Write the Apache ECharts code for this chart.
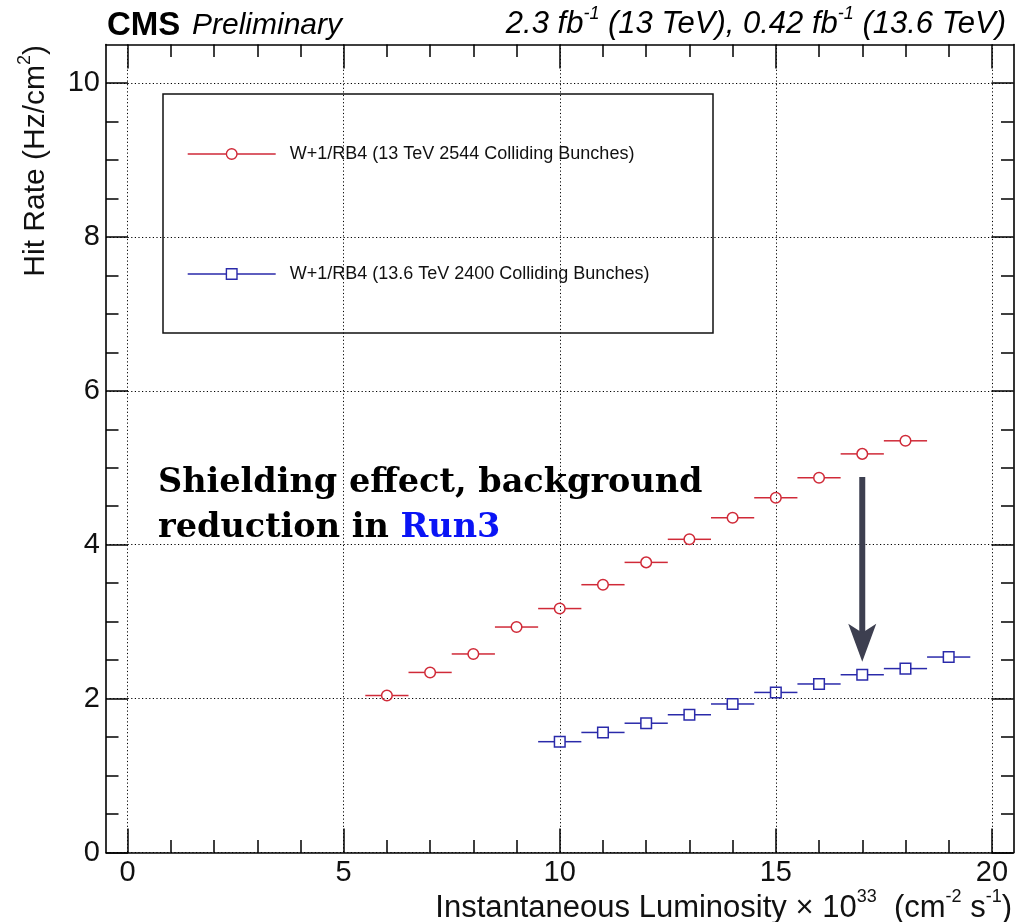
<!DOCTYPE html>
<html>
<head>
<meta charset="utf-8">
<script src="https://cdn.jsdelivr.net/npm/echarts@6/dist/echarts.min.js"></script>
<style>
  html, body { margin: 0; padding: 0; background: #fff; }
  #chart { width: 1028px; height: 922px; }
</style>
</head>
<body>
<div id="chart"></div>
<script>
// W+1/RB4 hit rate vs instantaneous luminosity
const lumi13 = [6, 7, 8, 9, 10, 11, 12, 13, 14, 15, 16, 17, 18];
const rate13 = [2.04, 2.34, 2.58, 2.93, 3.17, 3.48, 3.77, 4.07, 4.35, 4.61, 4.87, 5.18, 5.35];
const lumi136 = [10, 11, 12, 13, 14, 15, 16, 17, 18, 19];
const rate136 = [1.44, 1.56, 1.68, 1.79, 1.93, 2.08, 2.19, 2.31, 2.39, 2.54];
const lumiHalfWidth = 0.5;

// arrow annotation: x, start rate, end rate
const arrowX = [17];
const arrowFrom = [4.88];
const arrowTo = [2.48];

// axis ticks
const xMajorTicks = [0, 5, 10, 15, 20];
const xMinorTicks = [1, 2, 3, 4, 6, 7, 8, 9, 11, 12, 13, 14, 16, 17, 18, 19];
const yMajorTicks = [0, 2, 4, 6, 8, 10];
const yMinorTicks = [0.5, 1, 1.5, 2.5, 3, 3.5, 4.5, 5, 5.5, 6.5, 7, 7.5, 8.5, 9, 9.5];

const legendNames = [
  'W+1/RB4 (13 TeV 2544 Colliding Bunches)',
  'W+1/RB4 (13.6 TeV 2400 Colliding Bunches)'
];

const RED = '#d02a38';
const BLUE = '#2a2aaa';
const SANS = '"Liberation Sans", Arial, Helvetica, sans-serif';

const gridRect = { left: 106, right: 14.5, top: 44.5, bottom: 69.5 };
const X_RANGE = { min: -0.5, max: 20.5 };
const Y_RANGE = { min: 0, max: 10.5 };

function xAxisDef(gridIndex, position, ticks, len, withLabels, withLine, withSplit) {
  return Object.assign({
    type: 'value', gridIndex: gridIndex, position: position,
    axisLine: { show: withLine, onZero: false, lineStyle: { color: '#000', width: 1.6 } },
    axisTick: { show: true, inside: true, length: len, customValues: ticks,
                lineStyle: { color: '#000', width: 1.5 } },
    axisLabel: withLabels ? { show: true, customValues: ticks, margin: 6, fontSize: 29,
                              color: '#111', fontFamily: SANS } : { show: false },
    splitLine: withSplit ? { show: true, lineStyle: { color: '#000', width: 1, type: [1.2, 2.4] } }
                         : { show: false }
  }, X_RANGE);
}
function yAxisDef(gridIndex, position, ticks, len, withLabels, withLine, withSplit) {
  return Object.assign({
    type: 'value', gridIndex: gridIndex, position: position,
    axisLine: { show: withLine, onZero: false, lineStyle: { color: '#000', width: 1.6 } },
    axisTick: { show: true, inside: true, length: len, customValues: ticks,
                lineStyle: { color: '#000', width: 1.5 } },
    axisLabel: withLabels ? { show: true, customValues: ticks, margin: 6, fontSize: 29,
                              color: '#111', fontFamily: SANS } : { show: false },
    splitLine: withSplit ? { show: true, lineStyle: { color: '#000', width: 1, type: [1.2, 2.4] } }
                         : { show: false }
  }, Y_RANGE);
}

// horizontal x-error bar with an open marker (circle or square)
function errorBarSeries(name, xs, ys, color, shape) {
  const r = 5.3;
  return {
    type: 'custom', name: name, xAxisIndex: 0, yAxisIndex: 0, z: 5,
    itemStyle: { color: color },
    data: xs.map((x, i) => [x, ys[i]]),
    renderItem: function (params, api) {
      const x = api.value(0), y = api.value(1);
      const c = api.coord([x, y]);
      const lft = api.coord([x - lumiHalfWidth, y]);
      const rgt = api.coord([x + lumiHalfWidth, y]);
      const stroke = { stroke: color, lineWidth: 1.5, fill: null };
      const marker = shape === 'circle'
        ? { type: 'circle', shape: { cx: c[0], cy: c[1], r: r }, style: stroke }
        : { type: 'rect', shape: { x: c[0] - r, y: c[1] - r, width: 2 * r, height: 2 * r }, style: stroke };
      return {
        type: 'group',
        children: [
          { type: 'line', shape: { x1: lft[0], y1: lft[1], x2: c[0] - r, y2: c[1] }, style: stroke },
          { type: 'line', shape: { x1: c[0] + r, y1: c[1], x2: rgt[0], y2: rgt[1] }, style: stroke },
          marker
        ]
      };
    }
  };
}

const LEGEND_LINE = 'M0,6 L38.7,6 M49.3,6 L88,6 ';
const CIRCLE_ICON = 'path://' + LEGEND_LINE + 'M49.3,6 A5.3,5.3 0 1,1 38.7,6 A5.3,5.3 0 1,1 49.3,6 Z';
const SQUARE_ICON = 'path://' + LEGEND_LINE + 'M38.7,0.7 L49.3,0.7 L49.3,11.3 L38.7,11.3 Z';

const chart = echarts.init(document.getElementById('chart'), null, { renderer: 'canvas' });

const supStyle = { fontSize: 18, verticalAlign: 'top', lineHeight: 18 };

chart.setOption({
  animation: false,
  backgroundColor: '#fff',
  grid: [0, 1, 2, 3].map(() => Object.assign({ containLabel: false }, gridRect)),
  xAxis: [
    xAxisDef(0, 'bottom', xMajorTicks, 24, true, true, true),
    xAxisDef(1, 'bottom', xMinorTicks, 12.5, false, false, false),
    xAxisDef(2, 'top', xMajorTicks, 24, false, true, false),
    xAxisDef(3, 'top', xMinorTicks, 12.5, false, false, false)
  ],
  yAxis: [
    yAxisDef(0, 'left', yMajorTicks, 22, true, true, true),
    yAxisDef(1, 'left', yMinorTicks, 12.5, false, false, false),
    yAxisDef(2, 'right', yMajorTicks, 22, false, true, false),
    yAxisDef(3, 'right', yMinorTicks, 12.5, false, false, false)
  ],
  legend: {
    orient: 'vertical',
    left: 182, top: 139,
    itemWidth: 88, itemHeight: 10.6,
    itemGap: 100,
    selectedMode: false,
    textStyle: { fontSize: 18, fontFamily: SANS, color: '#111', lineHeight: 20, padding: [0, 0, 0, 9] },
    data: [
      { name: legendNames[0], icon: CIRCLE_ICON,
        itemStyle: { color: 'rgba(0,0,0,0)', borderColor: RED, borderWidth: 1.4 } },
      { name: legendNames[1], icon: SQUARE_ICON,
        itemStyle: { color: 'rgba(0,0,0,0)', borderColor: BLUE, borderWidth: 1.4 } }
    ]
  },
  graphic: [
    // legend frame
    { type: 'rect', z: 1,
      shape: { x: 163, y: 94, width: 550, height: 239 },
      style: { fill: null, stroke: '#111', lineWidth: 1.5 } },
    // header
    { type: 'text', x: 107, y: 26, z: 10,
      style: { text: 'CMS', font: 'bold 33px ' + SANS, fill: '#000',
               textAlign: 'left', textVerticalAlign: 'middle' } },
    { type: 'text', x: 192, y: 26, z: 10,
      style: { text: 'Preliminary', font: 'italic 30px ' + SANS, fill: '#000',
               textAlign: 'left', textVerticalAlign: 'middle' } },
    { type: 'text', x: 1006, y: 24, z: 10,
      style: {
        text: '{m|2.3 fb}{s|-1}{m| (13 TeV), 0.42 fb}{s|-1}{m| (13.6 TeV)}',
        textAlign: 'right', textVerticalAlign: 'middle',
        rich: {
          m: { font: 'italic 31px ' + SANS, fill: '#000', lineHeight: 38 },
          s: { font: 'italic 18px ' + SANS, fill: '#000', verticalAlign: 'top', lineHeight: 18 }
        }
      } },
    // axis titles
    { type: 'text', x: 1012, y: 908, z: 10,
      style: {
        text: '{m|Instantaneous Luminosity × 10}{s|33}{m|  (cm}{s|-2}{m| s}{s|-1}{m|)}',
        textAlign: 'right', textVerticalAlign: 'middle',
        rich: {
          m: { fontSize: 31, fontFamily: SANS, fill: '#111', lineHeight: 40 },
          s: Object.assign({ fontFamily: SANS, fill: '#111' }, supStyle)
        }
      } },
    { type: 'text', x: 36, y: 45, rotation: Math.PI / 2, z: 10,
      style: {
        text: '{m|Hit Rate (Hz/cm}{s|2}{m|)}',
        textAlign: 'right', textVerticalAlign: 'middle',
        rich: {
          m: { fontSize: 30, fontFamily: SANS, fill: '#111', lineHeight: 39 },
          s: Object.assign({ fontFamily: SANS, fill: '#111' }, supStyle)
        }
      } },
    // annotation
    { type: 'text', x: 158, y: 461, z: 10,
      style: {
        text: '{b|Shielding effect, background}\n{b|reduction in }{r|Run3}',
        textAlign: 'left', textVerticalAlign: 'top',
        rich: {
          b: { font: 'bold 33.5px "DejaVu Serif", Georgia, serif', fill: '#000', lineHeight: 45 },
          r: { font: 'bold 33.5px "DejaVu Serif", Georgia, serif', fill: '#0a14f5', lineHeight: 45 }
        }
      } }
  ],
  series: [
    errorBarSeries(legendNames[0], lumi13, rate13, RED, 'circle'),
    errorBarSeries(legendNames[1], lumi136, rate136, BLUE, 'square'),
    {
      type: 'custom', name: 'arrow', xAxisIndex: 0, yAxisIndex: 0, z: 6,
      data: arrowX.map((x, i) => [x, arrowFrom[i], arrowTo[i]]),
      renderItem: function (params, api) {
        const top = api.coord([api.value(0), api.value(1)]);
        const tip = api.coord([api.value(0), api.value(2)]);
        const headLen = 38, headHalf = 14, notch = 9, shaftHalf = 3;
        const col = '#3d3f50';
        return {
          type: 'group',
          children: [
            { type: 'rect',
              shape: { x: top[0] - shaftHalf, y: top[1], width: 2 * shaftHalf,
                       height: tip[1] - top[1] - headLen + notch + 2 },
              style: { fill: col } },
            { type: 'polygon',
              shape: { points: [
                [tip[0], tip[1]],
                [tip[0] - headHalf, tip[1] - headLen],
                [tip[0], tip[1] - headLen + notch],
                [tip[0] + headHalf, tip[1] - headLen]
              ] },
              style: { fill: col } }
          ]
        };
      }
    }
  ]
});
</script>
</body>
</html>
